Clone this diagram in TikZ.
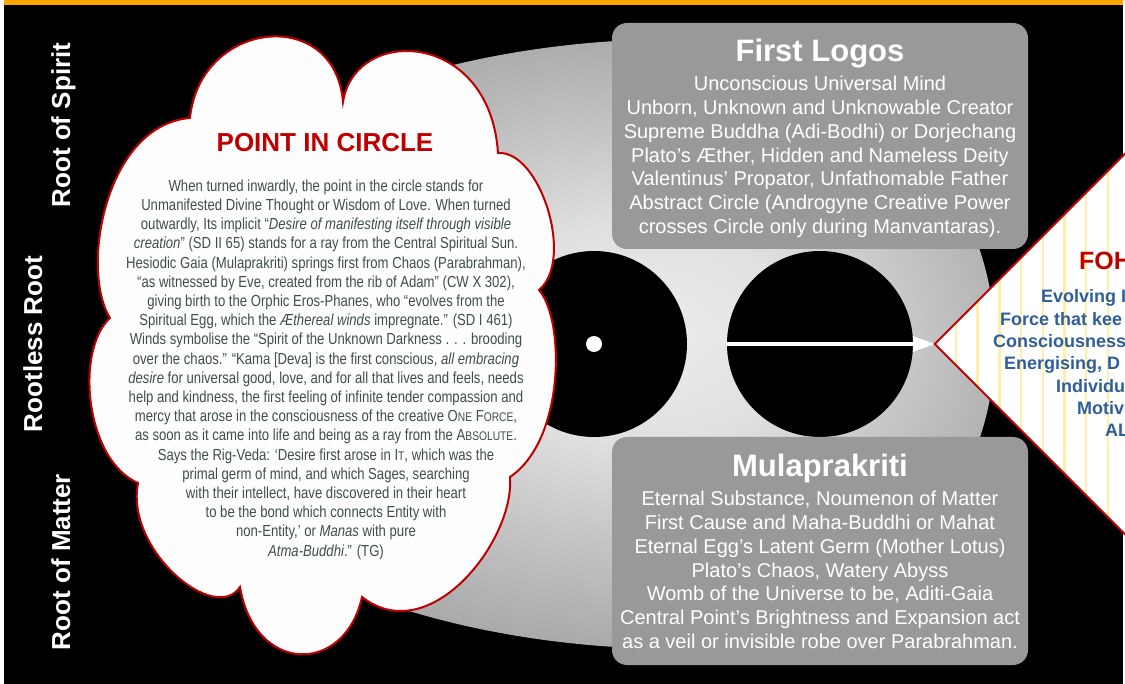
\documentclass[tikz,border=0pt]{standalone}
\usepackage{fontspec}
\setmainfont{Liberation Sans}
\newfontfamily\narrowfont[FakeStretch=0.82]{Liberation Sans}
\usetikzlibrary{shapes.geometric,arrows.meta}
\definecolor{cloudred}{RGB}{192,0,0}
\definecolor{orangebar}{RGB}{255,165,0}
\definecolor{boxgray}{RGB}{153,153,153}
\definecolor{cloudtext}{RGB}{64,78,78}
\definecolor{cloudwhite}{RGB}{253,253,253}
\definecolor{fohblue}{RGB}{47,94,153}
\definecolor{stripe}{RGB}{255,240,165}
\definecolor{eggA}{RGB}{236,236,236}
\definecolor{eggB}{RGB}{224,224,224}
\definecolor{eggC}{RGB}{196,196,196}
\definecolor{eggD}{RGB}{170,170,170}
\pgfdeclareradialshading{eggshade}{\pgfpoint{6bp}{1bp}}{color(0bp)=(eggA); color(9bp)=(eggB); color(17bp)=(eggC); color(25bp)=(eggD); color(50bp)=(eggD)}
\newcommand{\fsc}[1]{{\fontsize{12.5}{19.2}\selectfont #1}}
\begin{document}
\begin{tikzpicture}[x=1pt,y=-1pt,
  sidelabel/.style={text=white, font=\fontsize{26}{31}\selectfont\bfseries, rotate=90, anchor=base, inner sep=0pt},
  infobox/.style={fill=boxgray, rounded corners=15pt, minimum width=416pt, inner sep=0pt},
  boxtitle/.style={text=white, font=\fontsize{31}{37}\selectfont\bfseries, anchor=base, inner sep=0pt},
  boxbody/.style={text=white, font=\fontsize{20}{23.9}\selectfont, align=center, anchor=north, inner sep=0pt},
  disc/.style={circle, fill=black, minimum size=186pt, inner sep=0pt},
  fohline/.style={text=fohblue, font=\fontsize{18}{22}\selectfont\bfseries, anchor=base west, inner sep=0pt},
  arrowline/.style={white, line width=3.5pt, -{Triangle[length=22pt,width=15pt]}}]
\useasboundingbox (0,0) rectangle (1125,684);
\clip (0,0) rectangle (1125,684);
\fill[white] (0,0) rectangle (1125,684);
\fill[black] (4,5) rectangle (1123,684);
\fill[orangebar] (4,0) rectangle (1123,5);
% egg
\shade[shading=eggshade] (680,39) arc[start angle=270, end angle=90, x radius=560, y radius=305]
  arc[start angle=90, end angle=-90, x radius=315, y radius=305] -- cycle;
% discs
\node[disc] (lc) at (594,344) {};
\node[circle, fill=white, minimum size=16pt, inner sep=0pt] (dot) at (lc) {};
\node[disc] (rc) at (820,344) {};
% diamond
\node[diamond, fill=white, minimum width=400pt, minimum height=400pt, inner sep=0pt] (fohat) at (1135,344) {};
\begin{scope}
  \clip (fohat.west) -- (fohat.north) -- (fohat.east) -- (fohat.south) -- cycle;
  \foreach \sx in {956,977.7,...,1130} \draw[stripe, line width=2.5pt] (\sx,100) -- (\sx,600);
\end{scope}
\draw[arrowline] (rc.west) -- (fohat.west);
\draw[cloudred, line width=2pt] (fohat.west) -- (fohat.north) -- (fohat.east) -- (fohat.south) -- cycle;
\node[text=cloudred, font=\fontsize{25}{30}\selectfont\bfseries, anchor=base west, inner sep=0pt] (fohtitle) at (1079,270) {FOH};
\node[fohline] (f1) at (1041,303) {Evolving I};
\node[fohline] (f2) at (1000,325.3) {Force that kee};
\node[fohline] (f3) at (993,347.6) {Consciousness};
\node[fohline] (f4) at (1004,369.9) {Energising, D};
\node[fohline] (f5) at (1056,392.2) {Individu};
\node[fohline] (f6) at (1077,414.5) {Motiv};
\node[fohline] (f7) at (1105,436.8) {AL};
% cloud
\path[draw=cloudred, line width=2pt, fill=cloudwhite] (190,118)
  .. controls (200,20) and (335,5) .. (343,102)
  .. controls (355,25) and (490,30) .. (498,153)
  .. controls (540,150) and (575,260) .. (539,290)
  .. controls (565,320) and (565,440) .. (510,477)
  .. controls (515,540) and (430,650) .. (362,597)
  .. controls (345,675) and (255,675) .. (240,587)
  .. controls (215,625) and (125,550) .. (138,483)
  .. controls (85,460) and (75,350) .. (110,318)
  .. controls (80,270) and (105,125) .. (190,118) -- cycle;
\node[text=cloudred, font=\fontsize{26}{31}\selectfont\bfseries, anchor=base, inner sep=0pt] (pictitle) at (325,152) {POINT IN CIRCLE};
\node[text=cloudtext, font=\narrowfont\fontsize{16}{19.2}\selectfont, align=center, anchor=north, inner sep=0pt] (pictext) at (326,179.5) {%
When turned inwardly, the point in the circle stands for\\
Unmanifested Divine Thought or Wisdom of Love. When turned\\
outwardly, Its implicit “\textit{Desire of manifesting itself through visible}\\
\textit{creation}” (SD II 65) stands for a ray from the Central Spiritual Sun.\\
Hesiodic Gaia (Mulaprakriti) springs first from Chaos (Parabrahman),\\
“as witnessed by Eve, created from the rib of Adam” (CW X 302),\\
giving birth to the Orphic Eros-Phanes, who “evolves from the\\
Spiritual Egg, which the \textit{Æthereal winds} impregnate.” (SD I 461)\\
Winds symbolise the “Spirit of the Unknown Darkness . . . brooding\\
over the chaos.” “Kama [Deva] is the first conscious, \textit{all embracing}\\
\textit{desire} for universal good, love, and for all that lives and feels, needs\\
help and kindness, the first feeling of infinite tender compassion and\\
mercy that arose in the consciousness of the creative O\fsc{NE} F\fsc{ORCE},\\
as soon as it came into life and being as a ray from the A\fsc{BSOLUTE}.\\
Says the Rig-Veda: ‘Desire first arose in I\fsc{T}, which was the\\
primal germ of mind, and which Sages, searching\\
with their intellect, have discovered in their heart\\
to be the bond which connects Entity with\\
non-Entity,’ or \textit{Manas} with pure\\
\textit{Atma-Buddhi}.” (TG)};
% boxes
\node[infobox, minimum height=226pt] (logos) at (820,136) {};
\node[boxtitle] (logostitle) at (820,62) {First Logos};
\node[boxbody] (logostext) at (820,75.7) {Unconscious Universal Mind\\
Unborn, Unknown and Unknowable Creator\\
Supreme Buddha (Adi-Bodhi) or Dorjechang\\
Plato’s Æther, Hidden and Nameless Deity\\
Valentinus’ Propator, Unfathomable Father\\
Abstract Circle (Androgyne Creative Power\\
crosses Circle only during Manvantaras).};
\node[infobox, minimum height=228pt] (mula) at (820,551) {};
\node[boxtitle] (mulatitle) at (820,477) {Mulaprakriti};
\node[boxbody] (mulatext) at (820,490.7) {Eternal Substance, Noumenon of Matter\\
First Cause and Maha-Buddhi or Mahat\\
Eternal Egg’s Latent Germ (Mother Lotus)\\
Plato’s Chaos, Watery Abyss\\
Womb of the Universe to be, Aditi-Gaia\\
Central Point’s Brightness and Expansion act\\
as a veil or invisible robe over Parabrahman.};
% side labels
\node[sidelabel] (spirit) at (70,125) {Root of Spirit};
\node[sidelabel] (rootless) at (42,344) {Rootless Root};
\node[sidelabel] (matter) at (70,562) {Root of Matter};
\end{tikzpicture}
\end{document}
